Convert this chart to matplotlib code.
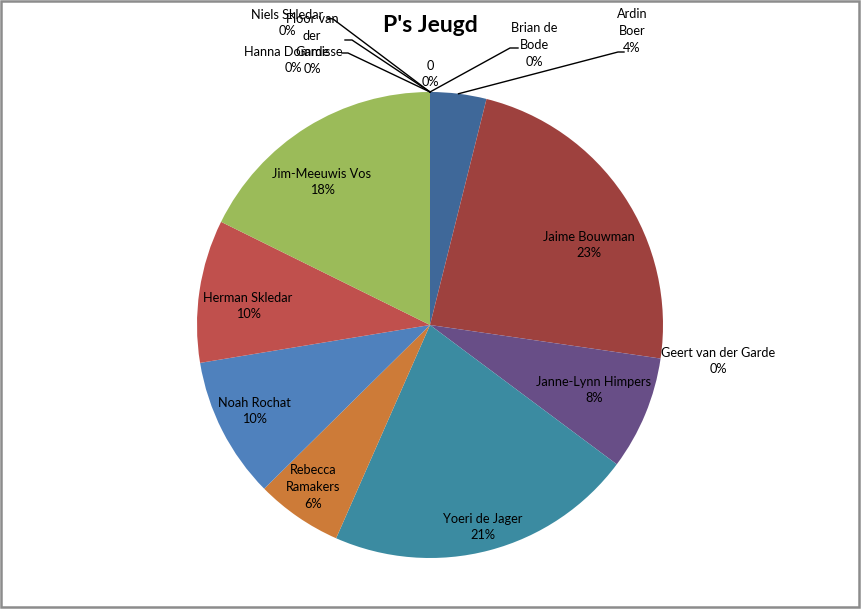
import matplotlib.pyplot as plt
from matplotlib.patches import Rectangle
import numpy as np

plt.rcParams['font.family'] = ['Lato', 'DejaVu Sans']

# data (share of points)
namen = ['0', 'Brian de Bode', 'Ardin Boer', 'Jaime Bouwman', 'Geert van der Garde',
         'Janne-Lynn Himpers', 'Yoeri de Jager', 'Rebecca Ramakers', 'Noah Rochat',
         'Herman Skledar', 'Jim-Meeuwis Vos', 'Hanna Dommisse', 'Floor van der Garde',
         'Niels Skledar']
waarden = [0, 0, 3.9, 23.4, 0, 7.9, 21.4, 6.0, 9.8, 9.9, 17.7, 0, 0, 0]
titel = "P's Jeugd"

kleuren = ['#4F81BD', '#C0504D', '#3F6899', '#9E413E', '#7E9A48', '#684E87',
           '#3B8BA1', '#CD7B38', '#4F81BD', '#C0504D', '#9BBB59', '#8064A2',
           '#4BACC6', '#F79646']

# label text (with line breaks as in the picture) and centre position in pixels
label_tekst = {
    '0': '0',
    'Brian de Bode': 'Brian de\nBode',
    'Ardin Boer': 'Ardin\nBoer',
    'Jaime Bouwman': 'Jaime Bouwman',
    'Geert van der Garde': 'Geert van der Garde',
    'Janne-Lynn Himpers': 'Janne-Lynn Himpers',
    'Yoeri de Jager': 'Yoeri de Jager',
    'Rebecca Ramakers': 'Rebecca\nRamakers',
    'Noah Rochat': 'Noah Rochat',
    'Herman Skledar': 'Herman Skledar',
    'Jim-Meeuwis Vos': 'Jim-Meeuwis Vos',
    'Hanna Dommisse': 'Hanna Dommisse',
    'Floor van der Garde': 'Floor van\nder\nGarde',
    'Niels Skledar': 'Niels Skledar',
}
label_pos = {
    '0': (430, 74),
    'Brian de Bode': (534, 45),
    'Ardin Boer': (632, 31),
    'Jaime Bouwman': (589, 245),
    'Geert van der Garde': (718, 361),
    'Janne-Lynn Himpers': (594, 390),
    'Yoeri de Jager': (483, 527),
    'Rebecca Ramakers': (313, 487),
    'Noah Rochat': (254, 411),
    'Herman Skledar': (248, 306),
    'Jim-Meeuwis Vos': (322, 182),
    'Hanna Dommisse': (293, 60),
    'Floor van der Garde': (312, 44),
    'Niels Skledar': (287, 23),
}
# leader lines: points near label (pixels), the end goes to the pie edge
leaders = {
    'Brian de Bode': [(518, 48), (510, 48)],
    'Ardin Boer': [(624, 52), (618, 52)],
    'Hanna Dommisse': [(342, 53), (348, 53)],
    'Floor van der Garde': [(345, 40), (352, 40)],
    'Niels Skledar': [(327, 18), (333, 19)],
}

W, H = 861, 609
CX, CY, R = 430, 325, 233


def naar_data(px, py):
    return (px - CX) / R, (CY - py) / R


fig = plt.figure(figsize=(W / 100, H / 100), dpi=100)
ax = fig.add_axes([0, 0, 1, 1])
wedges, _ = ax.pie(waarden, colors=kleuren, startangle=90, counterclock=False,
                   radius=1, wedgeprops=dict(linewidth=0))
ax.set_xlim(-CX / R, (W - CX) / R)
ax.set_ylim(-(H - CY) / R, CY / R)
ax.set_aspect('auto')
ax.axis('off')

totaal = sum(waarden)
for naam, w, wedge in zip(namen, waarden, wedges):
    pct = round(w / totaal * 100)
    x, y = naar_data(*label_pos[naam])
    ax.text(x, y, label_tekst[naam] + '\n' + f'{pct}%', ha='center', va='center',
            fontsize=9.2, color='black', linespacing=1.45)
    if naam in leaders:
        hoek = np.deg2rad((wedge.theta1 + wedge.theta2) / 2)
        pts = [naar_data(*p) for p in leaders[naam]]
        pts.append((np.cos(hoek), np.sin(hoek)))
        ax.plot([p[0] for p in pts], [p[1] for p in pts], color='black', lw=1)

fig.text(CX / W, 1 - 26 / H, titel, ha='center', va='center', fontsize=16.5,
         fontweight='bold')

fig.patches.append(Rectangle((1 / W, 2 / H), (W - 3) / W, (H - 3) / H,
                             transform=fig.transFigure, fill=False,
                             edgecolor='#8c8c8c', linewidth=1.8))

fig.savefig('out.png', dpi=100)
